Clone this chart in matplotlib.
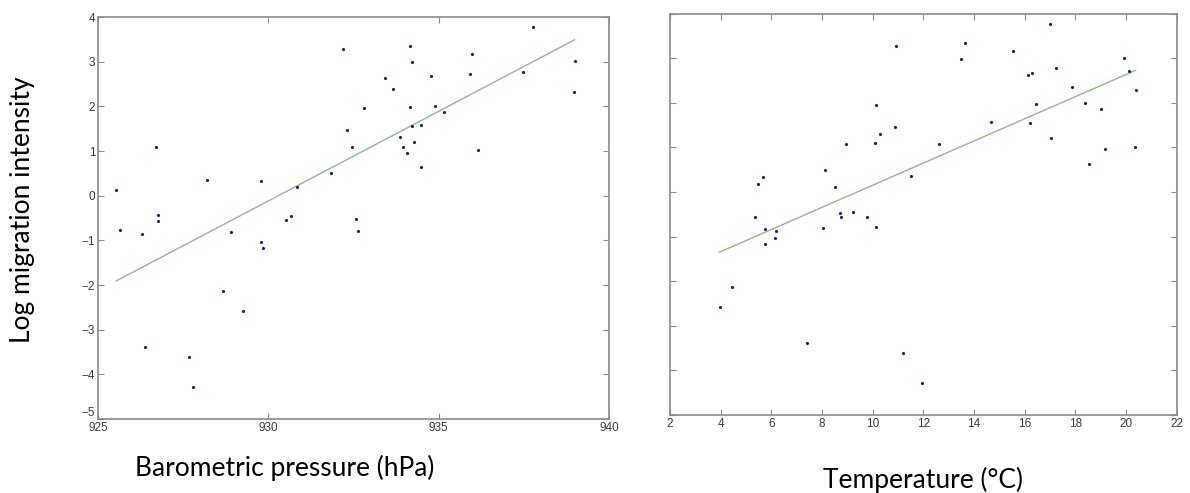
import matplotlib.pyplot as plt
import numpy as np

# barometric pressure (hPa) vs log migration intensity
pressure = [925.52, 925.64, 926.30, 926.38, 926.71, 926.76, 926.76, 927.66,
            927.79, 928.19, 928.68, 928.89, 929.26, 929.79, 929.79, 929.84,
            930.53, 930.65, 930.84, 931.84, 932.20, 932.31, 932.46, 932.57,
            932.64, 932.80, 933.42, 933.65, 933.85, 933.96, 934.06, 934.15,
            934.17, 934.23, 934.23, 934.26, 934.48, 934.49, 934.77, 934.89,
            935.16, 935.91, 935.99, 936.15, 937.48, 937.76, 938.97, 938.99]
log_mig_p = [0.12, -0.77, -0.86, -3.39, 1.09, -0.44, -0.57, -3.61,
             -4.28, 0.36, -2.14, -0.81, -2.58, 0.34, -1.04, -1.17,
             -0.55, -0.45, 0.19, 0.51, 3.28, 1.47, 1.09, -0.53,
             -0.80, 1.97, 2.64, 2.38, 1.32, 1.10, 0.96, 3.34,
             1.98, 2.99, 1.56, 1.21, 0.65, 1.59, 2.68, 2.00,
             1.87, 2.72, 3.17, 1.03, 2.78, 3.77, 2.32, 3.01]
fit_p_x = [925.53, 938.99]
fit_p_y = [-1.91, 3.49]

# temperature (deg C) vs log migration intensity
temperature = [3.97, 4.44, 5.35, 5.49, 5.69, 5.74, 5.74, 6.15,
               6.19, 7.42, 8.05, 8.12, 8.52, 8.70, 8.76, 8.94,
               9.24, 9.78, 10.11, 10.13, 10.15, 10.28, 10.88, 10.92,
               11.20, 11.50, 11.94, 12.62, 13.48, 13.65, 14.67, 15.54,
               16.14, 16.22, 16.30, 16.46, 17.04, 17.01, 17.22, 17.87,
               18.37, 18.53, 19.01, 19.17, 19.92, 20.12, 20.35, 20.38]
log_mig_t = [-2.58, -2.14, -0.56, 0.17, 0.33, -0.82, -1.17, -1.04,
             -0.87, -3.39, -0.81, 0.50, 0.11, -0.46, -0.55, 1.08,
             -0.45, -0.57, 1.09, -0.78, 1.96, 1.31, 1.46, 3.28,
             -3.61, 0.36, -4.28, 1.08, 2.98, 3.34, 1.58, 3.16,
             2.63, 1.54, 2.67, 1.98, 1.21, 3.76, 2.78, 2.36,
             2.00, 0.64, 1.86, 0.96, 3.00, 2.71, 1.02, 2.30]
fit_t_x = [3.95, 20.37]
fit_t_y = [-1.35, 2.73]

dot_color = '#1c1c6a'
line_color = '#8db88d'
spine_color = '#8a8a8a'
label_font = ['Lato', 'DejaVu Sans']

plt.rcParams['font.family'] = ['Liberation Sans', 'DejaVu Sans']

fig = plt.figure(figsize=(11.9, 4.93), dpi=100)
ax1 = fig.add_axes([0.0824, 0.150, 0.4294, 0.8155])
ax2 = fig.add_axes([0.5629, 0.1582, 0.4261, 0.8140])


def style(ax):
    for s in ax.spines.values():
        s.set_color(spine_color)
        s.set_linewidth(1.2)
    ax.tick_params(direction='in', length=4, width=0.8, color=spine_color,
                   top=True, right=True, labelsize=8.5, labelcolor='#3a3a3a',
                   pad=2)


ax1.plot(fit_p_x, fit_p_y, color=line_color, lw=1.0)
ax1.plot(pressure, log_mig_p, '.', color=dot_color, ms=2.5)
ax1.set_xlim(925, 940)
ax1.set_ylim(-5, 4)
ax1.set_xticks([925, 930, 935, 940])
ax1.set_yticks(np.arange(-5, 5, 1))
style(ax1)
# lift the bottom y label a touch so it clears the first x label
ax1.get_yticklabels()[0].set_va('bottom')

ax2.plot(fit_t_x, fit_t_y, color=line_color, lw=1.0)
ax2.plot(temperature, log_mig_t, '.', color=dot_color, ms=2.5)
ax2.set_xlim(2, 22)
ax2.set_ylim(-5, 4)
ax2.set_xticks(np.arange(2, 23, 2))
ax2.set_yticks(np.arange(-5, 5, 1))
style(ax2)
ax2.tick_params(labelleft=False)

fig.text(0.239, 0.051, 'Barometric pressure (hPa)', ha='center', va='center',
         fontsize=19, family=label_font)
fig.text(0.776, 0.027, 'Temperature (°C)', ha='center', va='center',
         fontsize=19, family=label_font)
fig.text(0.019, 0.574, 'Log migration intensity', ha='center', va='center',
         rotation=90, fontsize=19, family=label_font)

plt.savefig('out.png', dpi=100)
